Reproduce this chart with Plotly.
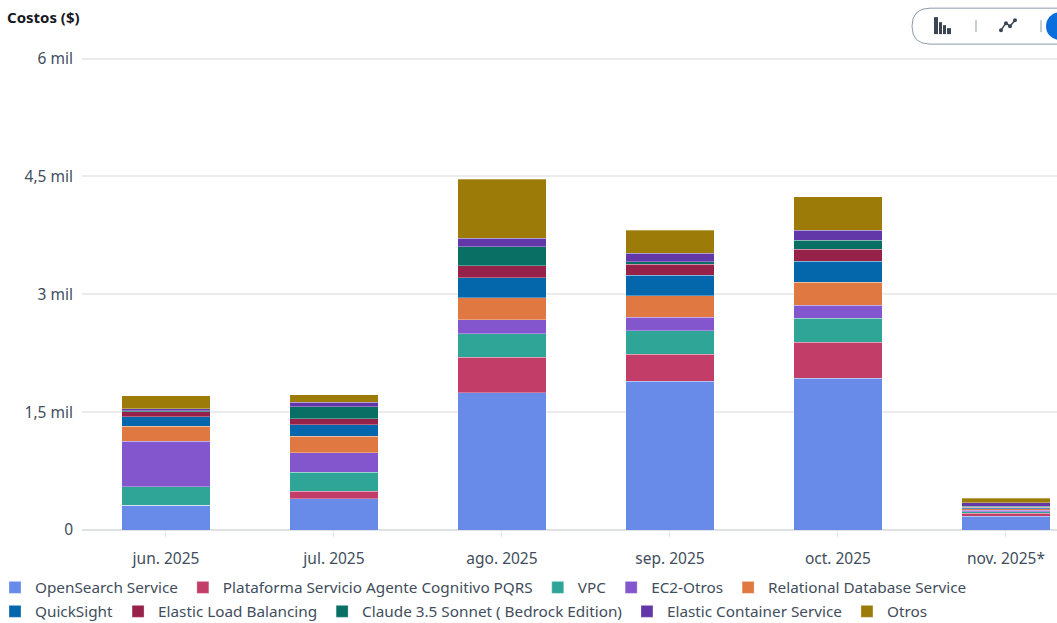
import plotly.graph_objects as go

months = ["jun. 2025", "jul. 2025", "ago. 2025", "sep. 2025", "oct. 2025", "nov. 2025*"]
opensearch = [312, 395, 1748, 1896, 1930, 176]
plataforma = [0, 97, 450, 344, 459, 38]
vpc = [240, 242, 302, 298, 306, 20]
ec2_otros = [580, 247, 178, 169, 166, 15]
rds = [187, 211, 280, 276, 293, 20]
quicksight = [124, 149, 255, 259, 268, 15]
elb = [64, 76, 148, 140, 153, 8]
claude = [10, 149, 247, 34, 115, 8]
ecs = [29, 59, 106, 106, 127, 50]
otros = [160, 98, 752, 293, 425, 51]
y_tick_vals = [0, 1500, 3000, 4500, 6000]
y_tick_text = ["0", "1,5 mil", "3 mil", "4,5 mil", "6 mil"]

series = [
    ("OpenSearch Service", opensearch, "#688ae8", "legend"),
    ("Plataforma Servicio Agente Cognitivo PQRS", plataforma, "#c33d69", "legend"),
    ("VPC", vpc, "#2ea597", "legend"),
    ("EC2-Otros", ec2_otros, "#8456ce", "legend"),
    ("Relational Database Service", rds, "#e07941", "legend"),
    ("QuickSight", quicksight, "#0466ab", "legend2"),
    ("Elastic Load Balancing", elb, "#962249", "legend2"),
    ("Claude 3.5 Sonnet ( Bedrock Edition)", claude, "#096f64", "legend2"),
    ("Elastic Container Service", ecs, "#6237a7", "legend2"),
    ("Otros", otros, "#9c7b08", "legend2"),
]

W, H = 1057, 623
L, R, T, B = 82, 0, 56.9, 92.5
FONT = "Noto Sans, Open Sans, sans-serif"
TEXT = "#414d5c"

def px(x):
    return (x - L) / (W - L - R)

def py(y):
    return 1 - (y - T) / (H - T - B)

fig = go.Figure()
for name, vals, color, leg in series:
    fig.add_trace(go.Bar(x=months, y=vals, name=name, marker_color=color,
                         marker_line_color="rgba(255,255,255,0.6)", marker_line_width=0.5,
                         width=0.525, legend=leg))

shapes = [
    dict(type="path", xref="paper", yref="paper", line=dict(color="#8d9aa8", width=1),
         fillcolor="white",
         path=f"M {px(1060)} {py(8)} L {px(930)} {py(8)} Q {px(912)} {py(8)} {px(912)} {py(26)} "
              f"Q {px(912)} {py(44)} {px(930)} {py(44)} L {px(1060)} {py(44)}"),
    dict(type="circle", xref="paper", yref="paper", line_width=0, fillcolor="#0a6fdc",
         x0=px(1046), x1=px(1074), y0=py(12), y1=py(40)),
]
for x0, x1, y0 in [(934, 938, 17), (939, 942, 22), (943, 946, 25), (947, 951, 28)]:
    shapes.append(dict(type="rect", xref="paper", yref="paper", line_width=0, fillcolor="#3b4652",
                       x0=px(x0), x1=px(x1), y0=py(y0), y1=py(34)))
for x in (976, 1041):
    shapes.append(dict(type="line", xref="paper", yref="paper", line=dict(color="#8d9aa8", width=1),
                       x0=px(x), x1=px(x), y0=py(20), y1=py(32)))
shapes.append(dict(type="path", xref="paper", yref="paper", line=dict(color="#3b4652", width=1.5),
                   path=f"M {px(1001)} {py(30)} L {px(1006)} {py(23)} L {px(1010)} {py(26)} L {px(1015)} {py(20)}"))
for x, y in [(1001, 30), (1006, 23), (1010, 26), (1015, 20)]:
    shapes.append(dict(type="circle", xref="paper", yref="paper", line_width=0, fillcolor="#3b4652",
                       x0=px(x - 2), x1=px(x + 2), y0=py(y - 2), y1=py(y + 2)))

def legend_at(y):
    return dict(orientation="h", xref="paper", yref="paper", x=px(-5), y=py(y),
                xanchor="left", yanchor="middle", font=dict(size=15.3, color=TEXT),
                itemwidth=30, traceorder="normal", bgcolor="rgba(0,0,0,0)")

fig.update_layout(
    width=W, height=H, autosize=False,
    margin=dict(l=L, r=R, t=T, b=B, pad=0, autoexpand=False),
    barmode="stack",
    paper_bgcolor="white", plot_bgcolor="white",
    font=dict(family=FONT, size=15.5, color=TEXT),
    shapes=shapes,
    legend=legend_at(588),
    legend2=legend_at(612),
    annotations=[dict(text="<b>Costos ($)</b>", xref="paper", yref="paper", x=px(5), y=py(17),
                      xanchor="left", yanchor="middle", showarrow=False,
                      font=dict(size=15, color="#16191f", family=FONT))],
    xaxis=dict(type="category", range=[-0.5, 5.304], categoryorder="array", categoryarray=months,
               tickmode="array", tickvals=months, ticktext=months,
               showgrid=False, showline=False, zeroline=False,
               ticks="outside", ticklen=6, tickcolor="#e4e7ea", tickwidth=1,
               ticklabelstandoff=8, tickfont=dict(size=15.5, color=TEXT)),
    yaxis=dict(range=[0, 6020], tickmode="array", tickvals=y_tick_vals, ticktext=y_tick_text,
               showgrid=True, gridcolor="#e9ebed", gridwidth=1.5, zeroline=True,
               zerolinecolor="#dfe2e5", zerolinewidth=2, showline=False, ticks="",
               ticklabelstandoff=8, tickfont=dict(size=15.5, color=TEXT)),
)

fig.write_html("out.html", config=dict(displayModeBar=False),
               post_script="document.body.style.margin='0';document.body.style.overflow='hidden';")
